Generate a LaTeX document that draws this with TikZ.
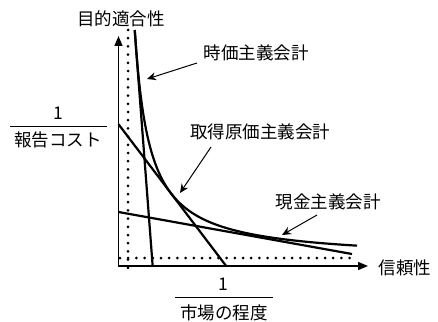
\documentclass[tikz,border=0pt]{standalone}
\usepackage{fontspec}
\setmainfont{Noto Sans CJK JP}
\usetikzlibrary{arrows.meta}
\begin{document}
\begin{tikzpicture}[x=1pt,y=-1pt,
  lbl/.style={font=\fontsize{17.5}{19}\selectfont, inner sep=0pt},
  thickc/.style={line width=2.2pt},
  axisline/.style={line width=1.4pt},
  pointer/.style={line width=1pt, -{Stealth[length=9pt,width=8pt]}},
  dotl/.style={line width=3pt, line cap=round, dash pattern=on 0pt off 8.2pt},
  fracbar/.style={line width=0.9pt}]
\useasboundingbox (0,0) rectangle (438,321);
% axes
\coordinate (O) at (118.5,266);
\coordinate (Ytip) at (118.5,36);
\coordinate (Xtip) at (368,266);
\draw[axisline, {Triangle[length=10pt,width=8pt]}-{Triangle[length=10pt,width=8pt]}] (Ytip) -- (O) -- (Xtip);
% dotted asymptotes
\coordinate (dv1) at (128,30);
\coordinate (dv2) at (128,268);
\coordinate (dh1) at (120,258);
\coordinate (dh2) at (352,258);
\draw[dotl] (dv1) -- (dv2);
\draw[dotl] (dh1) -- (dh2);
% indifference curve
\draw[thickc] plot[domain=134.8:357,samples=160] (\x,{260-3400/(\x-120)});
% budget lines
\coordinate (a1) at (134.67,30);
\coordinate (a2) at (152.66,266);
\coordinate (b1) at (118.5,124.2);
\coordinate (b2) at (226.15,266);
\coordinate (c1) at (118.5,212);
\coordinate (c2) at (352,254);
\draw[thickc] (a1) -- (a2);
\draw[thickc] (b1) -- (b2);
\draw[thickc] (c1) -- (c2);
% labels
\node[lbl] (ylab) at (121,19) {目的適合性};
\node[lbl] (jika) at (256,53) {時価主義会計};
\node[lbl] (shutoku) at (260,132) {取得原価主義会計};
\node[lbl] (genkin) at (328,202) {現金主義会計};
\node[lbl] (xlab) at (405,268) {信頼性};
% fractions
\node[lbl] (one1) at (58,113) {1};
\node[lbl] (cost) at (58,140) {報告コスト};
\coordinate (f1a) at (10,126);
\coordinate (f1b) at (107,126);
\draw[fracbar] (f1a) -- (f1b);
\node[lbl] (one2) at (223,284) {1};
\node[lbl] (market) at (224,313) {市場の程度};
\coordinate (f2a) at (175,297);
\coordinate (f2b) at (273,297);
\draw[fracbar] (f2a) -- (f2b);
% pointers
\coordinate (p1s) at (197,63);
\coordinate (p1e) at (147,79);
\coordinate (p2s) at (211,147);
\coordinate (p2e) at (180,193);
\coordinate (p3s) at (317,215);
\coordinate (p3e) at (282,235);
\draw[pointer] (p1s) -- (p1e);
\draw[pointer] (p2s) -- (p2e);
\draw[pointer] (p3s) -- (p3e);
\end{tikzpicture}
\end{document}
